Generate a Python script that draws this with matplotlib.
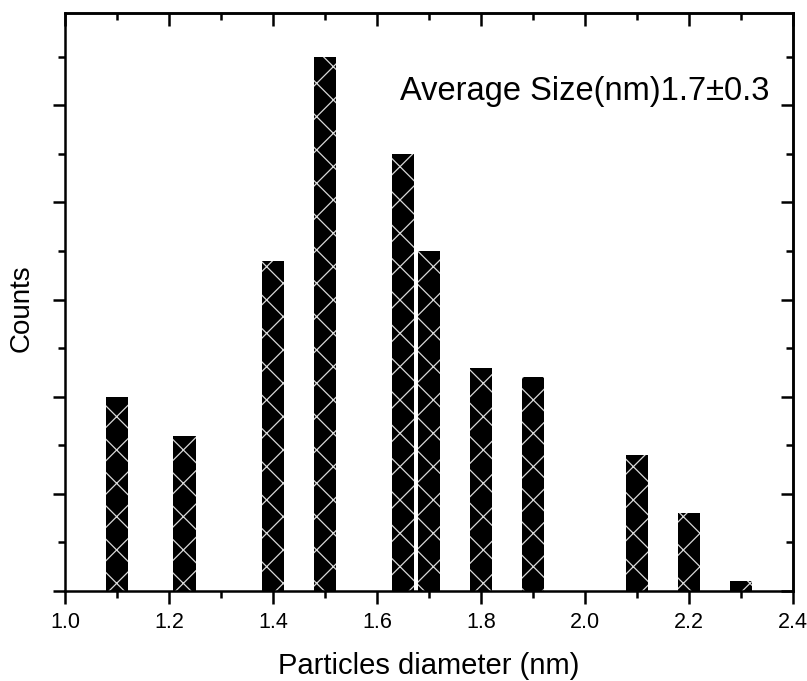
import matplotlib
matplotlib.use("Agg")
import matplotlib.pyplot as plt
from matplotlib.ticker import MultipleLocator, NullFormatter

# particle diameter bins (nm) and counts
diameters = [1.10, 1.23, 1.40, 1.50, 1.65, 1.70, 1.80, 1.90, 2.10, 2.20, 2.30]
counts = [20, 16, 34, 55, 45, 35, 23, 22, 14, 8, 1]
bar_width = 0.044

plt.rcParams['font.family'] = ['Liberation Sans', 'DejaVu Sans']
plt.rcParams['xtick.labelsize'] = 15.5
plt.rcParams['hatch.linewidth'] = 0.9

fig = plt.figure(figsize=(8.07, 6.81), dpi=100)
ax = fig.add_axes([65 / 807, 1 - 591 / 681, 728 / 807, 578 / 681])

# black bars, then a light cross-hatch laid over them
ax.bar(diameters, counts, width=bar_width, color='black', linewidth=0)
ax.bar(diameters, counts, width=bar_width, facecolor='none',
       edgecolor='#d8d8d8', hatch='x', linewidth=0)

ax.set_xlim(1.0, 2.4)
ax.set_ylim(0, 59.5)

ax.xaxis.set_major_locator(MultipleLocator(0.2))
ax.xaxis.set_minor_locator(MultipleLocator(0.1))
ax.yaxis.set_major_locator(MultipleLocator(10))
ax.yaxis.set_minor_locator(MultipleLocator(5))
ax.yaxis.set_major_formatter(NullFormatter())

for s in ax.spines.values():
    s.set_linewidth(1.8)

# left/bottom ticks point out
ax.tick_params(which='both', width=1.8, direction='out', top=False, right=False)
ax.tick_params(which='major', length=9)
ax.tick_params(which='minor', length=5)
ax.tick_params(axis='x', pad=6)

# top/right ticks point in, no labels
top = ax.secondary_xaxis('top')
top.xaxis.set_major_locator(MultipleLocator(0.2))
top.xaxis.set_minor_locator(MultipleLocator(0.1))
top.xaxis.set_major_formatter(NullFormatter())
right = ax.secondary_yaxis('right')
right.yaxis.set_major_locator(MultipleLocator(10))
right.yaxis.set_minor_locator(MultipleLocator(5))
right.yaxis.set_major_formatter(NullFormatter())
for sec in (top, right):
    sec.tick_params(which='both', width=1.8, direction='in')
    sec.tick_params(which='major', length=9)
    sec.tick_params(which='minor', length=5)
    for s in sec.spines.values():
        s.set_linewidth(1.8)

ax.set_xlabel('Particles diameter (nm)', fontsize=21, labelpad=14)
ax.set_ylabel('Counts', fontsize=20)
ax.yaxis.set_label_coords(-30 / 728, 0.49)

ax.text(0.968, 0.865, 'Average Size(nm)1.7±0.3', transform=ax.transAxes,
        ha='right', va='center', fontsize=23.5)

fig.savefig('out.png', dpi=100)
